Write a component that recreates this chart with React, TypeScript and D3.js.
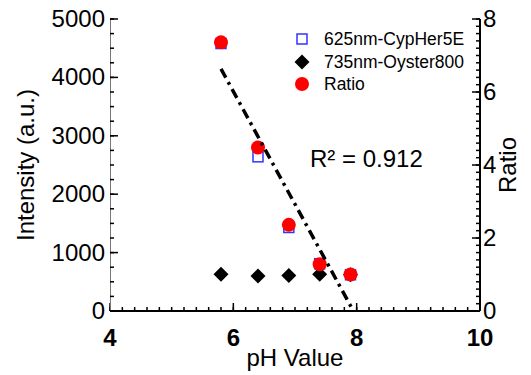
import React from "react";
import * as d3 from "d3";

// pH titration: fluorescence intensities of two dyes and their ratio
const phValues = [5.8, 6.4, 6.9, 7.4, 7.9];
const cypherIntensity = [4580, 2640, 1430, 810, 620];
const oysterIntensity = [630, 600, 610, 630, 620];
const ratioValues = [7.36, 4.48, 2.36, 1.28, 1.0];

const xTickValues = [4, 6, 8, 10];
const leftTickValues = [0, 1000, 2000, 3000, 4000, 5000];
const rightTickValues = [0, 2, 4, 6, 8];
const legendLabels = ["625nm-CypHer5E", "735nm-Oyster800", "Ratio"];
const r2Label = "R² = 0.912";

const W = 531;
const H = 375;
const plot = { left: 110, right: 480, top: 19, bottom: 311 };
const FONT = "'Liberation Sans', Arial, sans-serif";

function linearFit(xs: number[], ys: number[]) {
  const mx = d3.mean(xs) as number;
  const my = d3.mean(ys) as number;
  const sxy = d3.sum(xs, (x, i) => (x - mx) * (ys[i] - my));
  const sxx = d3.sum(xs, (x) => (x - mx) * (x - mx));
  const slope = sxy / sxx;
  return { slope, intercept: my - slope * mx };
}

// square turned 45 degrees
const diamond = "M0,-7.5L7.5,0L0,7.5L-7.5,0Z";

export default function App() {
  const x = d3.scaleLinear().domain([4, 10]).range([plot.left, plot.right]);
  const yL = d3.scaleLinear().domain([0, 5000]).range([plot.bottom, plot.top]);
  const yR = d3.scaleLinear().domain([0, 8]).range([plot.bottom, plot.top]);

  const xMinor = d3.range(4, 10.001, 0.2);
  const leftMinor = d3.range(0, 5000.1, 250);
  const rightMinor = d3.range(0, 8.001, 0.2);

  // least-squares trend of the ratio, drawn until it reaches zero
  const fit = linearFit(phValues, ratioValues);
  const x0 = d3.min(phValues) as number;
  const xEnd = Math.min(10, -fit.intercept / fit.slope);
  const trend = d3
    .line<number>()
    .x((d) => x(d))
    .y((d) => yR(fit.slope * d + fit.intercept))([x0, xEnd]);

  const legendX = 302;
  const legendY = [39, 62, 84];

  return (
    <svg
      width={W}
      height={H}
      style={{ position: "absolute", left: 0, top: 0, background: "#fff" }}
      fontFamily={FONT}
    >
      {/* bottom axis */}
      <line x1={plot.left} x2={plot.right} y1={plot.bottom} y2={plot.bottom} stroke="#000" strokeWidth={2} />
      {xMinor.map((v, i) => (
        <line key={"xm" + i} x1={x(v)} x2={x(v)} y1={plot.bottom} y2={plot.bottom - 4} stroke="#000" strokeWidth={1.5} />
      ))}
      {xTickValues.map((v) => (
        <g key={"xt" + v}>
          <line x1={x(v)} x2={x(v)} y1={plot.bottom} y2={plot.bottom - 8} stroke="#000" strokeWidth={1.5} />
          <text x={x(v)} y={plot.bottom + 35} textAnchor="middle" fontSize={24} fontWeight="bold">
            {v}
          </text>
        </g>
      ))}
      <text x={(plot.left + plot.right) / 2} y={366} textAnchor="middle" fontSize={24}>
        pH Value
      </text>

      {/* left axis */}
      <line x1={plot.left + 0.5} x2={plot.left + 0.5} y1={plot.top} y2={plot.bottom} stroke="#777" strokeWidth={1} />
      {leftMinor.map((v, i) => (
        <line key={"lm" + i} x1={plot.left} x2={plot.left + 4} y1={yL(v)} y2={yL(v)} stroke="#000" strokeWidth={1.5} />
      ))}
      {leftTickValues.map((v) => (
        <g key={"lt" + v}>
          <line x1={plot.left} x2={plot.left + 8} y1={yL(v)} y2={yL(v)} stroke="#000" strokeWidth={1.5} />
          <text x={plot.left - 5} y={yL(v) + 8} textAnchor="end" fontSize={24}>
            {v}
          </text>
        </g>
      ))}
      <text transform={`translate(34,${(plot.top + plot.bottom) / 2}) rotate(-90)`} textAnchor="middle" fontSize={24}>
        Intensity (a.u.)
      </text>

      {/* right axis */}
      <line x1={plot.right} x2={plot.right} y1={plot.top} y2={plot.bottom} stroke="#000" strokeWidth={2} />
      {rightMinor.map((v, i) => (
        <line key={"rm" + i} x1={plot.right} x2={plot.right - 4} y1={yR(v)} y2={yR(v)} stroke="#000" strokeWidth={1.5} />
      ))}
      {rightTickValues.map((v) => (
        <g key={"rt" + v}>
          <line x1={plot.right} x2={plot.right - 8} y1={yR(v)} y2={yR(v)} stroke="#000" strokeWidth={1.5} />
          <text x={plot.right + 3} y={yR(v) + 8} textAnchor="start" fontSize={24}>
            {v}
          </text>
        </g>
      ))}
      <text transform={`translate(516,${(plot.top + plot.bottom) / 2}) rotate(-90)`} textAnchor="middle" fontSize={24}>
        Ratio
      </text>

      {/* markers */}
      {phValues.map((p, i) => (
        <rect
          key={"sq" + i}
          x={x(p) - 5}
          y={yL(cypherIntensity[i]) - 5}
          width={10}
          height={10}
          fill="none"
          stroke="#3333ff"
          strokeWidth={1.5}
        />
      ))}
      {phValues.map((p, i) => (
        <path key={"dm" + i} d={diamond} transform={`translate(${x(p)},${yL(oysterIntensity[i])})`} fill="#000" />
      ))}
      {phValues.map((p, i) => (
        <circle key={"rc" + i} cx={x(p)} cy={yR(ratioValues[i])} r={7} fill="#ff0000" />
      ))}

      {/* trend line */}
      <path d={trend as string} fill="none" stroke="#000" strokeWidth={3.5} strokeDasharray="10,5,3,5" />

      <text x={310} y={167} fontSize={24}>
        {r2Label}
      </text>

      {/* legend */}
      <rect x={legendX - 5} y={legendY[0] - 5} width={10} height={10} fill="none" stroke="#3333ff" strokeWidth={1.5} />
      <path d={diamond} transform={`translate(${legendX},${legendY[1]})`} fill="#000" />
      <circle cx={legendX} cy={legendY[2]} r={7} fill="#ff0000" />
      {legendLabels.map((t, i) => (
        <text key={t} x={324} y={legendY[i] + 6} fontSize={17.5}>
          {t}
        </text>
      ))}
    </svg>
  );
}
